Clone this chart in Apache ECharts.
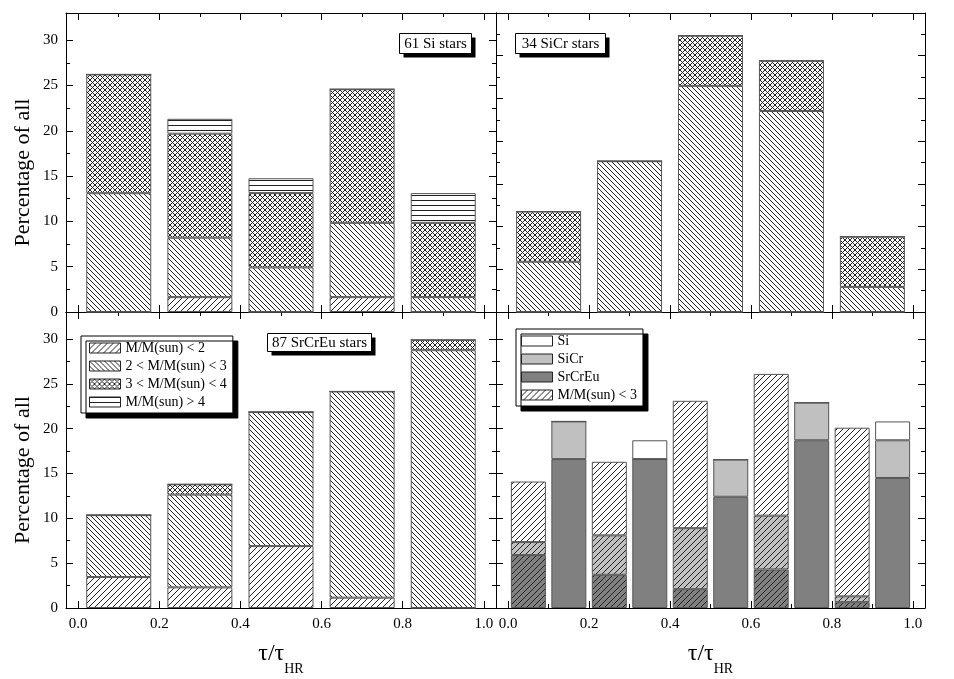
<!DOCTYPE html>
<html>
<head>
<meta charset="utf-8">
<script src="https://cdn.jsdelivr.net/npm/echarts@6/dist/echarts.min.js"></script>
<style>
  html, body { margin: 0; background: #fff; }
  #chart { width: 954px; height: 679px; }
</style>
</head>
<body>
<div id="chart"></div>
<script>
const FONT = 'Liberation Serif';

// tau/tau_HR bins (bin centres)
const tauBins = [0.1, 0.3, 0.5, 0.7, 0.9];
const massClasses = ['M/M(sun) < 2', '2 < M/M(sun) < 3', '3 < M/M(sun) < 4', 'M/M(sun) > 4'];

// 61 Si stars, percent per mass class
const siLt2 = [0, 1.64, 0, 1.64, 0];
const si2to3 = [13.11, 6.56, 4.92, 8.20, 1.64];
const si3to4 = [13.11, 11.48, 8.20, 14.75, 8.20];
const siGt4 = [0, 1.64, 1.64, 0, 3.28];

// 34 SiCr stars
const sicrLt2 = [0, 0, 0, 0, 0];
const sicr2to3 = [5.88, 17.65, 26.47, 23.53, 2.94];
const sicr3to4 = [5.88, 0, 5.88, 5.88, 5.88];
const sicrGt4 = [0, 0, 0, 0, 0];

// 87 SrCrEu stars
const srLt2 = [3.45, 2.30, 6.90, 1.15, 0];
const sr2to3 = [6.90, 10.34, 14.94, 22.99, 28.74];
const sr3to4 = [0, 1.15, 0, 0, 1.15];
const srGt4 = [0, 0, 0, 0, 0];

// comparison panel: pairs of bars, first of each pair is the M/M(sun) < 3 subsample
const mixBins = [0.05, 0.15, 0.25, 0.35, 0.45, 0.55, 0.65, 0.75, 0.85, 0.95];
const mixLowMass = [true, false, true, false, true, false, true, false, true, false];
const mixSrCrEu = [5.9, 16.6, 3.7, 16.6, 2.1, 12.4, 4.3, 18.7, 0.65, 14.5];
const mixSiCr = [1.45, 4.2, 4.4, 0, 6.8, 4.15, 6.0, 4.2, 0.65, 4.2];
const mixSi = [6.75, 0, 8.2, 2.1, 14.2, 0, 15.8, 0, 18.8, 2.1];

// ticks
const xMajor = [0, 0.2, 0.4, 0.6, 0.8, 1.0];
const xMinor = [0.1, 0.3, 0.5, 0.7, 0.9];
const yMajor = [0, 5, 10, 15, 20, 25, 30];
const yMinor = [2.5, 7.5, 12.5, 17.5, 22.5, 27.5];
const yMajorSiCr = [0, 5, 10, 15, 20, 25, 30, 35];
const yMinorSiCr = [2.5, 7.5, 12.5, 17.5, 22.5, 27.5, 32.5];

function hatch(kind, bg, step, ink) {
  const c = document.createElement('canvas');
  c.width = c.height = step;
  const g = c.getContext('2d');
  g.fillStyle = bg;
  g.fillRect(0, 0, step, step);
  g.strokeStyle = ink;
  g.lineWidth = 1;
  g.beginPath();
  if (kind === 'fwd' || kind === 'cross') {
    for (const k of [-step, 0, step]) { g.moveTo(k, step); g.lineTo(k + step, 0); }
  }
  if (kind === 'back' || kind === 'cross') {
    for (const k of [-step, 0, step]) { g.moveTo(k, 0); g.lineTo(k + step, step); }
  }
  if (kind === 'horiz') { g.moveTo(0, 0.5); g.lineTo(step, 0.5); }
  g.stroke();
  return { image: c, repeat: 'repeat' };
}

const massFills = [
  hatch('fwd', '#fff', 6, '#222'),
  hatch('back', '#fff', 5, '#222'),
  hatch('cross', '#fff', 5, '#222'),
  hatch('horiz', '#fff', 5, '#222')
];

const panels = [
  { grid: { left: 66, top: 13, width: 430, height: 299 }, yMax: 33, yMaj: yMajor, yMin: yMinor, xLab: false, yLab: true },
  { grid: { left: 496, top: 13, width: 429, height: 299 }, yMax: 35, yMaj: yMajorSiCr, yMin: yMinorSiCr, xLab: false, yLab: false },
  { grid: { left: 66, top: 312, width: 430, height: 296 }, yMax: 33, yMaj: yMajor, yMin: yMinor, xLab: true, yLab: true },
  { grid: { left: 496, top: 312, width: 429, height: 296 }, yMax: 33, yMaj: yMajor, yMin: yMinor, xLab: true, yLab: false }
];

const labelStyle = { show: true, color: '#000', fontFamily: FONT, fontSize: 15 };

function axis(gridIndex, position, min, max, ticks, len, withLine, extra) {
  return Object.assign({
    type: 'value', gridIndex, position, min, max,
    axisLine: { show: withLine, onZero: false, lineStyle: { color: '#000', width: 1 } },
    axisTick: { show: true, inside: true, length: len, customValues: ticks, lineStyle: { color: '#000', width: 1 } },
    axisLabel: { show: false },
    splitLine: { show: false }
  }, extra || {});
}

const xAxis = [], yAxis = [];
panels.forEach((p, g) => {
  const xExtra = p.xLab ? {
    axisLabel: Object.assign({}, labelStyle, { customValues: xMajor, margin: 9, formatter: v => v.toFixed(1) }),
    name: '{t|τ/τ}{s|HR}',
    nameLocation: 'middle',
    nameGap: 34,
    nameTextStyle: {
      color: '#000', fontFamily: FONT,
      rich: {
        t: { fontSize: 24, fontFamily: FONT, color: '#000', verticalAlign: 'top', lineHeight: 28 },
        s: { fontSize: 14, fontFamily: FONT, color: '#000', verticalAlign: 'top', lineHeight: 14, padding: [20, 0, 0, 0] }
      }
    }
  } : null;
  xAxis.push(
    axis(g, 'bottom', -0.03, 1.03, xMajor, 7, true, xExtra),
    axis(g, 'bottom', -0.03, 1.03, xMinor, 4, false),
    axis(g, 'top', -0.03, 1.03, xMajor, 7, true),
    axis(g, 'top', -0.03, 1.03, xMinor, 4, false)
  );
  const yExtra = p.yLab ? {
    axisLabel: Object.assign({}, labelStyle, { customValues: yMajor, margin: 8 }),
    name: 'Percentage of all',
    nameLocation: 'middle',
    nameRotate: 90,
    nameGap: 32,
    nameTextStyle: { color: '#000', fontFamily: FONT, fontSize: 22, padding: [0, 20, 0, 0] }
  } : null;
  yAxis.push(
    axis(g, 'left', 0, p.yMax, p.yMaj, 7, true, yExtra),
    axis(g, 'left', 0, p.yMax, p.yMin, 4, false),
    axis(g, 'right', 0, p.yMax, p.yMaj, 7, true),
    axis(g, 'right', 0, p.yMax, p.yMin, 4, false)
  );
});

const barBorder = { borderColor: '#555', borderWidth: 1 };
// value first so that the y column is the one that gets stacked
const barEncode = { x: 1, y: 0 };

function massSeries(g, arrays) {
  return arrays.map((vals, k) => ({
    name: massClasses[k],
    type: 'bar',
    stack: 'p' + g,
    xAxisIndex: g * 4,
    yAxisIndex: g * 4,
    barWidth: 65,
    encode: barEncode,
    itemStyle: Object.assign({ color: massFills[k] }, barBorder),
    data: tauBins.map((x, i) => [vals[i], x])
  }));
}

const mixColors = { SrCrEu: '#808080', SiCr: '#c0c0c0', Si: '#ffffff' };
function mixSeries(name, vals) {
  return {
    name,
    type: 'bar',
    stack: 'mix',
    xAxisIndex: 12,
    yAxisIndex: 12,
    barWidth: 35,
    encode: barEncode,
    itemStyle: Object.assign({ color: mixColors[name] }, barBorder),
    data: mixBins.map((x, i) => mixLowMass[i]
      ? { value: [vals[i], x], itemStyle: { color: hatch('fwd', mixColors[name], 6, '#222') } }
      : { value: [vals[i], x] })
  };
}

const boxStyle = {
  backgroundColor: '#fff', borderColor: '#000', borderWidth: 1,
  shadowColor: '#000', shadowBlur: 0, shadowOffsetX: 5, shadowOffsetY: 5
};
const legendText = { color: '#000', fontFamily: FONT, fontSize: 14 };

// boxed panel labels with a hard drop shadow
function tag(text, x, y, w, h) {
  return {
    type: 'group', left: x, top: y,
    children: [
      { type: 'rect', shape: { x: 4, y: 4, width: w, height: h }, style: { fill: '#000' } },
      { type: 'rect', shape: { x: 0, y: 0, width: w, height: h }, style: { fill: '#fff', stroke: '#000', lineWidth: 1 } },
      { type: 'text', x: w / 2, y: h / 2 + 1, style: { text, fill: '#000', font: '15px "Liberation Serif"', align: 'center', verticalAlign: 'middle' } }
    ]
  };
}

const option = {
  animation: false,
  backgroundColor: '#fff',
  grid: panels.map(p => Object.assign({ containLabel: false }, p.grid)),
  xAxis,
  yAxis,
  graphic: [
    tag('61 Si stars', 399, 33, 72, 20),
    tag('34 SiCr stars', 515, 33, 90, 20),
    tag('87 SrCrEu stars', 267, 333, 104, 18)
  ],
  legend: [
    Object.assign({
      data: massClasses, orient: 'vertical', left: 81, top: 336,
      padding: [5, 6, 4, 8], itemWidth: 31, itemHeight: 10, itemGap: 4,
      icon: 'rect', selectedMode: false,
      itemStyle: { borderColor: '#222', borderWidth: 1 },
      textStyle: legendText
    }, boxStyle),
    Object.assign({
      data: ['Si', 'SiCr', 'SrCrEu', 'M/M(sun) < 3'], orient: 'vertical', left: 516, top: 329,
      padding: [5, 6, 4, 5], itemWidth: 31, itemHeight: 10, itemGap: 4,
      icon: 'rect', selectedMode: false,
      itemStyle: { borderColor: '#222', borderWidth: 1 },
      textStyle: legendText
    }, boxStyle)
  ],
  series: [
    ...massSeries(0, [siLt2, si2to3, si3to4, siGt4]),
    ...massSeries(1, [sicrLt2, sicr2to3, sicr3to4, sicrGt4]),
    ...massSeries(2, [srLt2, sr2to3, sr3to4, srGt4]),
    mixSeries('SrCrEu', mixSrCrEu),
    mixSeries('SiCr', mixSiCr),
    mixSeries('Si', mixSi),
    {
      name: 'M/M(sun) < 3', type: 'bar', stack: 'mix', xAxisIndex: 12, yAxisIndex: 12, barWidth: 35,
      encode: barEncode,
      itemStyle: Object.assign({ color: hatch('fwd', '#fff', 6, '#222') }, barBorder),
      data: []
    }
  ]
};

const chart = echarts.init(document.getElementById('chart'));
chart.setOption(option);
</script>
</body>
</html>
